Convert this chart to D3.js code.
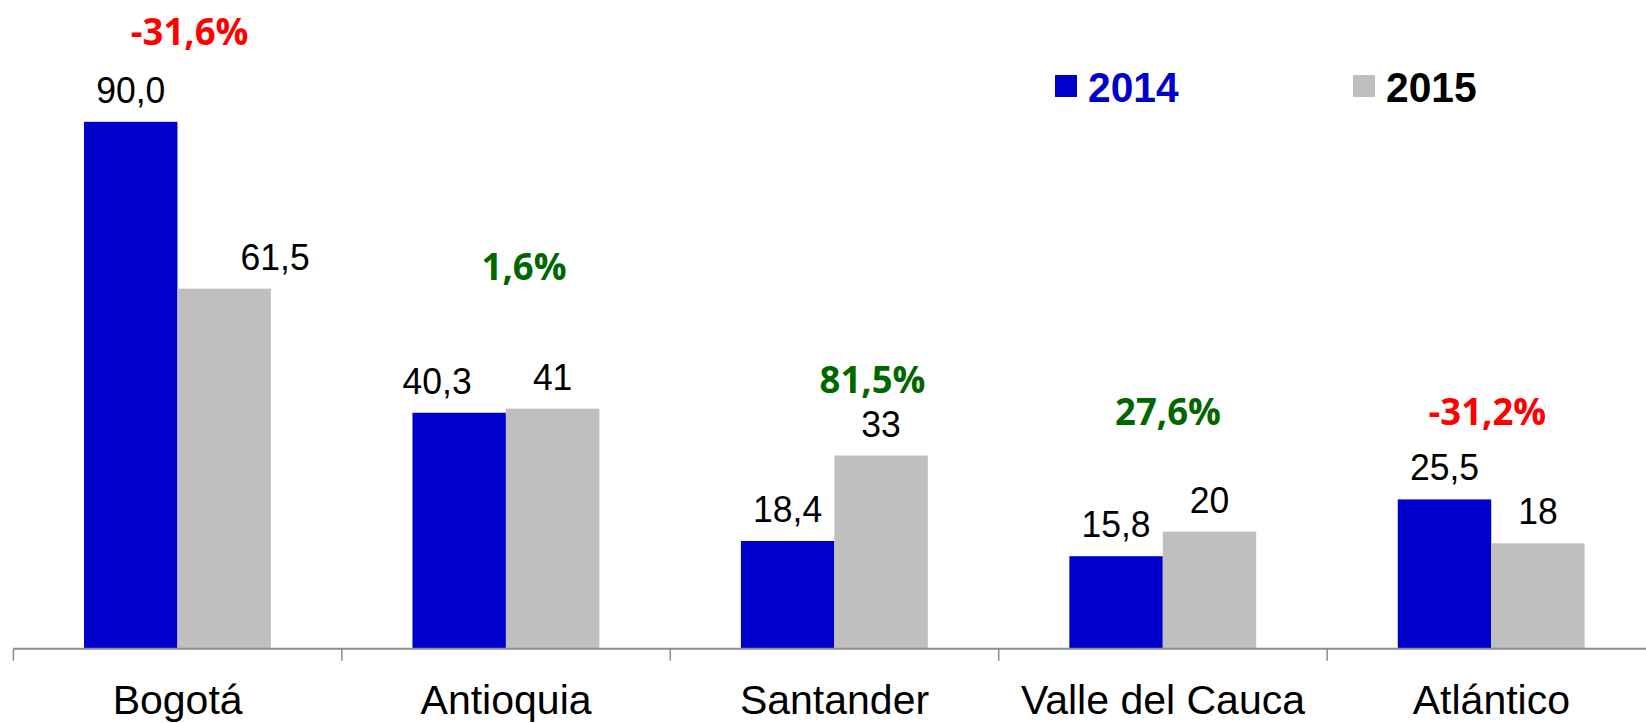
<!DOCTYPE html>
<html>
<head>
<meta charset="utf-8">
<script src="https://cdn.jsdelivr.net/npm/d3@7"></script>
<style>
  body { margin: 0; background: #fff; }
  svg { display: block; }
</style>
</head>
<body>
<script>
var width = 1646;
var height = 723;

// data
var categories = ["Bogotá", "Antioquia", "Santander", "Valle del Cauca", "Atlántico"];
var series = ["2014", "2015"];
var values2014 = [90.0, 40.3, 18.4, 15.8, 25.5];
var values2015 = [61.5, 41, 33, 20, 18];
var labels2014 = ["90,0", "40,3", "18,4", "15,8", "25,5"];
var labels2015 = ["61,5", "41", "33", "20", "18"];
var changes = ["-31,6%", "1,6%", "81,5%", "27,6%", "-31,2%"];

// layout of the hand placed text boxes (dx from band centre in px, baseline in value units)
var changePos = [[12, 103.1], [18, 63], [38, 43.7], [5, 38.2], [-4, 38.2]];
var labelShift2014 = [0, -22, 0, 0, 0];
var labelShift2015 = [51, 0, 0, 0, 0];

var colors = { "2014": "#0000cc", "2015": "#bfbfbf" };
var legendText = { "2014": "#0000cc", "2015": "#000000" };

var baseY = 648.7;

var x = d3.scaleBand()
  .domain(categories)
  .range([13.4, 1655.6])
  .padding(0);

var xSub = d3.scaleBand()
  .domain(series)
  .range([x.bandwidth() * 0.215, x.bandwidth() * 0.784]);

var y = d3.scaleLinear()
  .domain([0, 90])
  .range([baseY, 121.8]);

var svg = d3.select("body")
  .append("svg")
  .attr("width", width)
  .attr("height", height);

var rows = categories.map(function(c, i) {
  return { cat: c, i: i, vals: [values2014[i], values2015[i]], labels: [labels2014[i], labels2015[i]] };
});

// bars
var groups = svg.append("g")
  .selectAll("g")
  .data(rows)
  .enter()
  .append("g")
  .attr("transform", function(d) { return "translate(" + x(d.cat) + ",0)"; });

groups.selectAll("rect")
  .data(function(d) {
    return series.map(function(s, k) { return { s: s, v: d.vals[k] }; });
  })
  .enter()
  .append("rect")
  .attr("x", function(d) { return xSub(d.s); })
  .attr("width", xSub.bandwidth())
  .attr("y", function(d) { return y(d.v); })
  .attr("height", function(d) { return y(0) - y(d.v); })
  .attr("fill", function(d) { return colors[d.s]; });

// value labels
groups.selectAll("text.val")
  .data(function(d) {
    return series.map(function(s, k) {
      var shift = k === 0 ? labelShift2014[d.i] : labelShift2015[d.i];
      return { s: s, v: d.vals[k], t: d.labels[k], shift: shift };
    });
  })
  .enter()
  .append("text")
  .attr("class", "val")
  .attr("transform", function(d) {
    return "translate(" + (xSub(d.s) + xSub.bandwidth() / 2 + d.shift) + "," + (y(d.v) - 19) + ") scale(0.96,1)";
  })
  .attr("text-anchor", "middle")
  .style("font-family", "'Liberation Sans', Arial, sans-serif")
  .style("font-size", "37px")
  .attr("fill", "#000")
  .text(function(d) { return d.t; });

// change percentages
svg.append("g")
  .selectAll("text")
  .data(rows)
  .enter()
  .append("text")
  .attr("transform", function(d) {
    var p = changePos[d.i];
    return "translate(" + (x(d.cat) + x.bandwidth() / 2 + p[0]) + "," + y(p[1]) + ") scale(0.96,1)";
  })
  .attr("text-anchor", "middle")
  .style("font-family", "'Open Sans', 'Noto Sans', sans-serif")
  .style("font-weight", "bold")
  .style("font-size", "38px")
  .attr("fill", function(d) { return changes[d.i].charAt(0) === "-" ? "#ff0000" : "#006600"; })
  .text(function(d) { return changes[d.i]; });

// axis
var xAxis = d3.axisBottom(x).tickSize(0).tickPadding(36);
var axisG = svg.append("g")
  .attr("transform", "translate(0," + baseY + ")")
  .call(xAxis);
axisG.select(".domain").remove();
axisG.selectAll("text")
  .style("font-family", "'Liberation Sans', Arial, sans-serif")
  .style("font-size", "41px")
  .attr("fill", "#000");

axisG.append("line")
  .attr("x1", x.range()[0])
  .attr("x2", width)
  .attr("y1", 0)
  .attr("y2", 0)
  .attr("stroke", "#8c8c8c")
  .attr("stroke-width", 2);

axisG.selectAll("line.bound")
  .data(categories)
  .enter()
  .append("line")
  .attr("class", "bound")
  .attr("x1", function(d) { return x(d); })
  .attr("x2", function(d) { return x(d); })
  .attr("y1", 0)
  .attr("y2", 12)
  .attr("stroke", "#8c8c8c")
  .attr("stroke-width", 1.5);

// legend
var legendX = [1055, 1353];
var legend = svg.append("g")
  .selectAll("g")
  .data(series)
  .enter()
  .append("g")
  .attr("transform", function(d, i) { return "translate(" + legendX[i] + ",75)"; });

legend.append("rect")
  .attr("width", 22)
  .attr("height", 22)
  .attr("fill", function(d) { return colors[d]; });

legend.append("text")
  .attr("transform", "translate(33,27) scale(0.97,1)")
  .style("font-family", "'Liberation Sans', Arial, sans-serif")
  .style("font-weight", "bold")
  .style("font-size", "42px")
  .attr("fill", function(d) { return legendText[d]; })
  .text(function(d) { return d; });
</script>
</body>
</html>
